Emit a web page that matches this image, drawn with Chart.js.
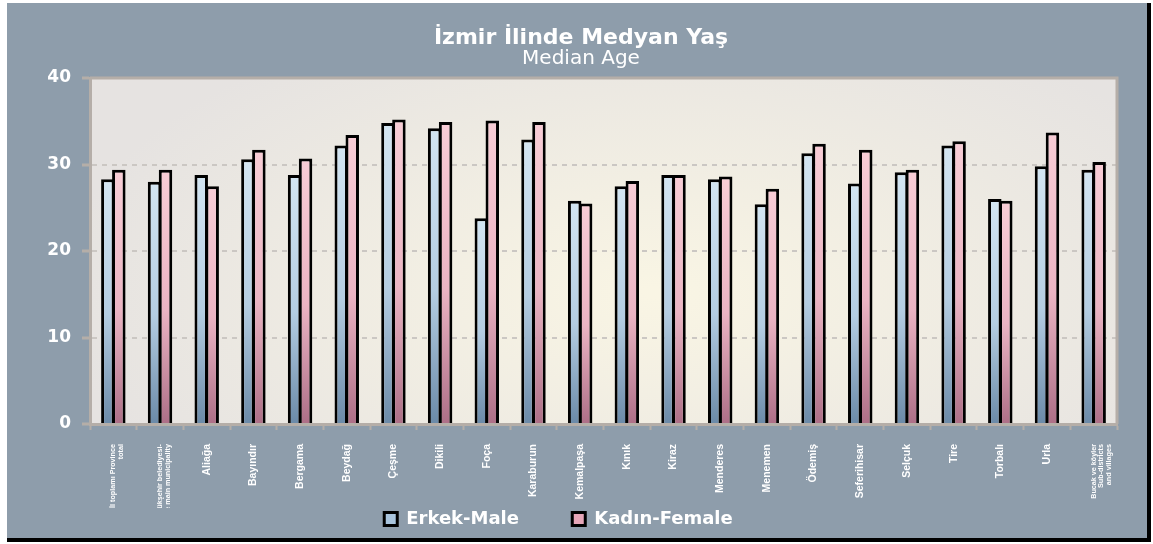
<!DOCTYPE html>
<html>
<head>
<meta charset="utf-8">
<script src="https://cdn.jsdelivr.net/npm/chart.js@4.4.1/dist/chart.umd.min.js"></script>
<style>
  html, body { margin: 0; padding: 0; background: #fff; }
  #panel {
    position: absolute; left: 7px; top: 3px;
    width: 1140px; height: 535px;
    background: #8e9dab;
    border-right: 4px solid #000;
    border-bottom: 4px solid #000;
  }
  canvas { display: block; }
</style>
</head>
<body>
<div id="panel"><canvas id="ageChart" width="1140" height="535"></canvas></div>
<script>
// --- data ---
const districts = [
    ['İl toplamı Province', 'total'],
    ['Büyükşehir belediyesi-', 'The main municipality'],
    'Aliağa', 'Bayındır', 'Bergama', 'Beydağ', 'Çeşme', 'Dikili', 'Foça',
    'Karaburun', 'Kemalpaşa', 'Kınık', 'Kiraz', 'Menderes', 'Menemen',
    'Ödemiş', 'Seferihisar', 'Selçuk', 'Tire', 'Torbalı', 'Urla',
    ['Bucak ve köyler', 'Sub-districts', 'and villages']
];
const maleAge   = [28.3, 28.0, 28.8, 30.6, 28.8, 32.2, 34.8, 34.2, 23.8, 32.9, 25.8,
                   27.5, 28.8, 28.3, 25.4, 31.3, 27.8, 29.1, 32.2, 26.0, 29.8, 29.4];
const femaleAge = [29.4, 29.4, 27.5, 31.7, 30.7, 33.4, 35.2, 34.9, 35.1, 34.9, 25.5,
                   28.1, 28.8, 28.6, 27.2, 32.4, 31.7, 29.4, 32.7, 25.8, 33.7, 30.3];
const seriesNames = ['Erkek-Male', 'Kadın-Female'];
const yTicks = [0, 10, 20, 30, 40];

const AXIS_GRAY = '#b5aea8';

// each bar gets its own top-to-bottom gradient
function barFill(light, mid, dark) {
    return (c) => {
        const chart = c.chart;
        if (c.type !== 'data' || !chart.chartArea || !c.parsed) return light;
        const y = chart.scales.y;
        const top = y.getPixelForValue(c.parsed.y);
        const base = y.getPixelForValue(0);
        const g = chart.ctx.createLinearGradient(0, top, 0, base);
        g.addColorStop(0, light);
        g.addColorStop(0.55, mid);
        g.addColorStop(1, dark);
        return g;
    };
}

// plot background + top/right frame
const plotFrame = {
    id: 'plotFrame',
    beforeDraw(chart) {
        const { ctx, chartArea: a } = chart;
        const cx = a.left + a.width * 0.55, cy = a.top + a.height * 0.62;
        ctx.save();
        ctx.translate(cx, cy);
        ctx.scale(1, 0.5);
        const g = ctx.createRadialGradient(0, 0, 10, 0, 0, a.width * 0.58);
        g.addColorStop(0, '#f9f5e4');
        g.addColorStop(1, '#e6e3e1');
        ctx.fillStyle = g;
        ctx.fillRect(a.left - cx, (a.top - cy) / 0.5, a.width, a.height / 0.5);
        ctx.restore();
    },
    afterDatasetsDraw(chart) {
        const { ctx, chartArea: a } = chart;
        ctx.save();
        ctx.strokeStyle = AXIS_GRAY;
        ctx.lineWidth = 3;
        ctx.beginPath();
        ctx.moveTo(a.left, a.top);
        ctx.lineTo(a.right, a.top);
        ctx.lineTo(a.right, a.bottom);
        ctx.stroke();
        ctx.restore();
    }
};

new Chart(document.getElementById('ageChart'), {
    type: 'bar',
    data: {
        labels: districts,
        datasets: [{
            label: seriesNames[0],
            data: maleAge,
            backgroundColor: barFill('#d3e5f2', '#b4cde2', '#6b8aa8'),
            borderColor: '#000',
            borderWidth: 3,
            borderSkipped: 'bottom',
            categoryPercentage: 0.47,
            barPercentage: 1.23
        }, {
            label: seriesNames[1],
            data: femaleAge,
            backgroundColor: barFill('#f8cdd6', '#ebb4c3', '#ad6f87'),
            borderColor: '#000',
            borderWidth: 3,
            borderSkipped: 'bottom',
            categoryPercentage: 0.47,
            barPercentage: 1.23
        }]
    },
    options: {
        responsive: false,
        devicePixelRatio: 1,
        animation: false,
        layout: { padding: { left: 38, right: 30, top: 0, bottom: 0 } },
        scales: {
            y: {
                min: 0, max: 40,
                afterFit: (s) => { s.width = 45; },
                afterBuildTicks: (s) => { s.ticks = yTicks.map(v => ({ value: v })); },
                grid: {
                    color: (c) => (c.tick && (c.tick.value === 0 || c.tick.value === 40)) ? 'rgba(0,0,0,0)' : '#cbc7c3',
                    lineWidth: 2,
                    tickColor: AXIS_GRAY,
                    tickWidth: 3,
                    tickLength: 8
                },
                border: { color: AXIS_GRAY, width: 3, dash: [5, 5] },
                ticks: {
                    color: '#fff',
                    padding: 11,
                    font: { family: 'DejaVu Sans', size: 17, weight: 'bold' }
                }
            },
            x: {
                afterFit: (s) => { s.height = 84; },
                grid: {
                    offset: true,
                    drawOnChartArea: false,
                    tickColor: AXIS_GRAY,
                    tickWidth: 2,
                    tickLength: 6
                },
                border: { color: AXIS_GRAY, width: 3 },
                ticks: {
                    color: '#fff',
                    autoSkip: false,
                    minRotation: 90,
                    maxRotation: 90,
                    padding: 14,
                    // the multi-line labels are set smaller, as in the source
                    font: (c) => {
                        const multi = c.tick && Array.isArray(c.tick.label);
                        return { family: "'Liberation Sans', Arial, sans-serif", size: multi ? 7.2 : 10.5, weight: 'bold', lineHeight: multi ? 1.05 : 1.1 };
                    }
                }
            }
        },
        plugins: {
            title: {
                display: true,
                text: 'İzmir İlinde Medyan Yaş',
                color: '#fff',
                font: { family: 'DejaVu Sans', size: 22, weight: 'bold', lineHeight: 1 },
                padding: { top: 24, bottom: 0 }
            },
            subtitle: {
                display: true,
                text: 'Median Age',
                color: '#fff',
                font: { family: 'DejaVu Sans', size: 20, weight: 'normal', lineHeight: 1 },
                padding: { top: 0, bottom: 9 }
            },
            legend: {
                position: 'bottom',
                labels: {
                    color: '#fff',
                    padding: 2,
                    boxWidth: 13,
                    boxHeight: 13,
                    useBorderRadius: true,
                    borderRadius: 2,
                    font: { family: 'DejaVu Sans', size: 18, weight: 'bold' },
                    // wide gap between the two entries, as in the source
                    generateLabels: () => [
                        { text: seriesNames[0] + '\u2003\u2003\u2002 ', fillStyle: '#a9c4dc', strokeStyle: '#000', lineWidth: 3, fontColor: '#fff', datasetIndex: 0 },
                        { text: seriesNames[1] + '\u2003\u2003\u2002', fillStyle: '#e6a6b8', strokeStyle: '#000', lineWidth: 3, fontColor: '#fff', datasetIndex: 1 }
                    ]
                }
            },
            tooltip: { enabled: false }
        }
    },
    plugins: [plotFrame]
});
</script>
</body>
</html>
